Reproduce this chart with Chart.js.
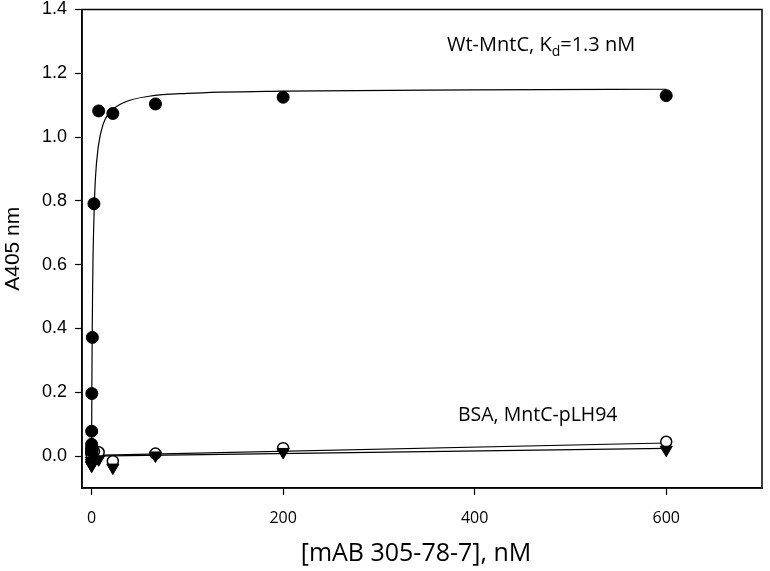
<!DOCTYPE html>
<html>
<head>
<meta charset="utf-8">
<script src="https://cdn.jsdelivr.net/npm/chart.js@4.4.1/dist/chart.umd.min.js"></script>
<style>
  html, body { margin: 0; padding: 0; background: #fff; }
  #wrap { width: 770px; height: 571px; position: relative; }
</style>
</head>
<body>
<div id="wrap"><canvas id="c" width="770" height="571"></canvas></div>
<script>
// ---- data ----
const concentrations = [600, 200, 66.7, 22.2, 7.4, 2.47, 0.82, 0.27, 0.09, 0.03, 0.01, 0.003];
const wtMntC   = [1.130, 1.125, 1.104, 1.074, 1.082, 0.791, 0.372, 0.196, 0.078, 0.037, 0.025, 0.015];
const bsa      = [0.045, 0.025, 0.008, -0.016, 0.012, 0.015, 0.020, 0.018, 0.012, 0.008, 0.010, 0.005];
const pLH94    = [0.020, 0.013, 0.002, -0.036, -0.010, -0.015, -0.020, -0.025, -0.030, -0.028, -0.020, -0.015];

// fitted curves as drawn in the reference
const wtFitX  = [0, 0.3, 0.6, 1, 1.5, 2.5, 4, 7, 12, 20, 35, 60, 100, 200, 400, 600];
const wtFitY  = [0, 0.215, 0.36, 0.50, 0.62, 0.75, 0.87, 0.97, 1.04, 1.08, 1.11, 1.128, 1.137, 1.144, 1.148, 1.150];
const bsaFitX = [0, 600];
const bsaFitY = [0.002, 0.041];
const plhFitX = [0, 600];
const plhFitY = [0.000, 0.024];

const xTicks = [0, 200, 400, 600];
const yTicks = [0, 0.2, 0.4, 0.6, 0.8, 1.0, 1.2, 1.4];
const xTitle = '[mAB 305-78-7], nM';
const yTitle = 'A405 nm';
const labelWt = ['Wt-MntC, K', 'd', '=1.3 nM'];
const labelBsa = 'BSA, MntC-pLH94';

const pts = (xs, ys) => xs.map((x, i) => ({ x: x, y: ys[i] }));

const framePlugin = {
  id: 'frame',
  afterDatasetsDraw(chart) {
    const { ctx, chartArea: a } = chart;
    ctx.save();
    ctx.strokeStyle = '#000';
    ctx.lineWidth = 1.5;
    ctx.strokeRect(a.left, a.top, a.right - a.left, a.bottom - a.top);
    ctx.restore();
  },
  afterDraw(chart) {
    const { ctx, chartArea: a } = chart;
    ctx.save();
    ctx.fillStyle = '#000';
    // axis titles
    ctx.font = '25px "Open Sans", sans-serif';
    ctx.textAlign = 'center';
    ctx.textBaseline = 'alphabetic';
    ctx.fillText(xTitle, 416, 561);
    ctx.save();
    ctx.translate(19, (a.top + a.bottom) / 2);
    ctx.rotate(-Math.PI / 2);
    ctx.font = '21px "Liberation Sans", Arial, sans-serif';
    ctx.fillText(yTitle, 0, 0);
    ctx.restore();
    // annotations
    ctx.textAlign = 'left';
    ctx.font = '20px "Open Sans", sans-serif';
    let x = 447, y = 51;
    ctx.fillText(labelWt[0], x, y);
    x += ctx.measureText(labelWt[0]).width;
    ctx.font = '14px "Open Sans", sans-serif';
    ctx.fillText(labelWt[1], x, y + 5);
    x += ctx.measureText(labelWt[1]).width;
    ctx.font = '20px "Open Sans", sans-serif';
    ctx.fillText(labelWt[2], x, y);
    ctx.font = '19.5px "Open Sans", sans-serif';
    ctx.fillText(labelBsa, 458, 421);
    ctx.restore();
  }
};

new Chart(document.getElementById('c'), {
  type: 'scatter',
  data: {
    datasets: [
      { label: 'Wt fit', data: pts(wtFitX, wtFitY), showLine: true, pointRadius: 0,
        borderColor: '#000', borderWidth: 1.2, cubicInterpolationMode: 'monotone', order: 6 },
      { label: 'BSA fit', data: pts(bsaFitX, bsaFitY), showLine: true, pointRadius: 0,
        borderColor: '#000', borderWidth: 1.2, order: 5 },
      { label: 'pLH94 fit', data: pts(plhFitX, plhFitY), showLine: true, pointRadius: 0,
        borderColor: '#000', borderWidth: 1.2, order: 4 },
      { label: 'BSA', data: pts(concentrations, bsa), pointStyle: 'circle', pointRadius: 5.5,
        backgroundColor: '#fff', borderColor: '#000', borderWidth: 1.5, order: 3 },
      { label: 'MntC-pLH94', data: pts(concentrations, pLH94), pointStyle: 'triangle', pointRotation: 180,
        pointRadius: 7, backgroundColor: '#000', borderColor: '#000', borderWidth: 1, order: 2 },
      { label: 'Wt-MntC', data: pts(concentrations, wtMntC), pointStyle: 'circle', pointRadius: 6,
        backgroundColor: '#000', borderColor: '#000', borderWidth: 1, order: 1 }
    ]
  },
  options: {
    responsive: false,
    animation: false,
    events: [],
    layout: { padding: { top: 9.5, right: 0, left: 0, bottom: 0 } },
    plugins: { legend: { display: false }, tooltip: { enabled: false } },
    scales: {
      x: {
        type: 'linear', min: -10, max: 700,
        afterBuildTicks: s => { s.ticks = xTicks.map(v => ({ value: v })); },
        afterFit: s => { s.height = 83; s.paddingLeft = 0; s.paddingRight = 0; },
        grid: { drawOnChartArea: false, drawTicks: true, tickLength: 7, tickColor: '#000', tickWidth: 1.2 },
        border: { display: true, color: '#000', width: 1.5 },
        ticks: { color: '#000', font: { family: '"Open Sans", sans-serif', size: 16 }, padding: 14, maxRotation: 0 }
      },
      y: {
        type: 'linear', min: -0.1, max: 1.4,
        afterBuildTicks: s => { s.ticks = yTicks.map(v => ({ value: v })); },
        afterFit: s => { s.width = 82; s.paddingTop = 0; s.paddingBottom = 0; },
        grid: { drawOnChartArea: false, drawTicks: true, tickLength: 7, tickColor: '#000', tickWidth: 1.2 },
        border: { display: true, color: '#000', width: 1.5 },
        ticks: { color: '#000', font: { family: '"Liberation Sans", Arial, sans-serif', size: 18 }, padding: 8,
                 callback: v => Number(v).toFixed(1) }
      }
    }
  },
  plugins: [framePlugin]
});
</script>
</body>
</html>
